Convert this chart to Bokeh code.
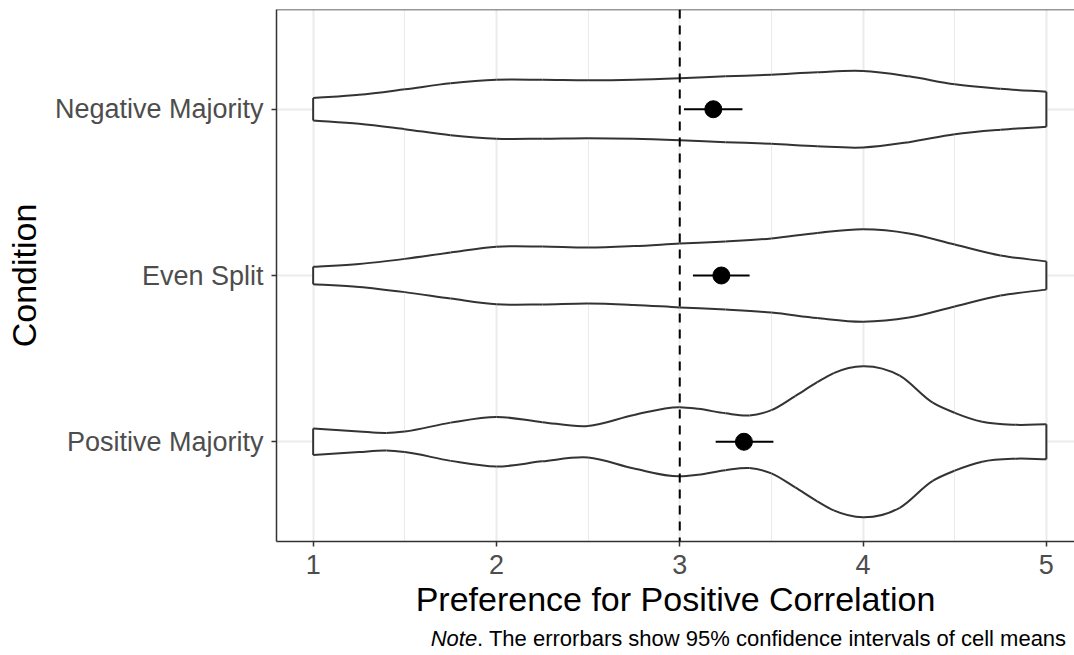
import math
from bokeh.plotting import figure
from bokeh.layouts import column
from bokeh.models import Range1d, FixedTicker, Span, Label
from bokeh.embed import file_html
from bokeh.resources import INLINE

# ---- data ----
categories = ["Positive Majority", "Even Split", "Negative Majority"]
cat_pos = [1, 2, 3]

neg_x = [1, 1.25, 1.5, 1.75, 2, 2.25, 2.5, 2.75, 3, 3.25, 3.5, 3.75, 4, 4.25, 4.5, 4.75, 5]
neg_hw = [0.067, 0.087, 0.120, 0.156, 0.177, 0.177, 0.174, 0.177, 0.186, 0.198, 0.208,
          0.223, 0.230, 0.198, 0.150, 0.123, 0.105]

even_x = [1, 1.25, 1.5, 1.75, 2, 2.25, 2.5, 2.75, 3, 3.25, 3.5, 3.75, 4, 4.25, 4.5, 4.75, 5]
even_hw = [0.052, 0.069, 0.100, 0.138, 0.173, 0.174, 0.168, 0.177, 0.192, 0.205, 0.223,
           0.256, 0.278, 0.253, 0.186, 0.120, 0.085]

pos_x = [1, 1.25, 1.4, 1.5, 1.75, 2, 2.25, 2.5, 2.75, 3, 3.1, 3.25, 3.38, 3.5, 3.63,
         3.75, 3.84, 4, 4.2, 4.38, 4.5, 4.65, 4.83, 5]
pos_hw = [0.080, 0.062, 0.053, 0.062, 0.115, 0.149, 0.118, 0.095, 0.161, 0.208, 0.198,
          0.171, 0.158, 0.190, 0.275, 0.358, 0.413, 0.454, 0.397, 0.235, 0.174, 0.120,
          0.102, 0.105]

means = [3.350, 3.227, 3.183]
ci_lo = [3.196, 3.072, 3.023]
ci_hi = [3.511, 3.381, 3.342]

x_ticks = [1, 2, 3, 4, 5]
x_minor = [1.5, 2.5, 3.5, 4.5]
ref_line = 3

x_title = "Preference for Positive Correlation"
y_title = "Condition"
note_italic = "Note"
note_rest = ". The errorbars show 95% confidence intervals of cell means"

FONT = "Liberation Sans"
DARK = "#333333"

p = figure(width=1074, height=625, output_backend="svg", toolbar_location=None,
           x_range=Range1d(0.8, 0.8 + 798 / 183.3), y_range=Range1d(0.4, 3.6),
           min_border_left=276, min_border_right=0, min_border_top=9,
           min_border_bottom=84)
p.outline_line_color = None
p.background_fill_color = "white"
p.border_fill_color = "white"

# grid
p.xaxis.ticker = FixedTicker(ticks=x_ticks, minor_ticks=x_minor)
p.yaxis.ticker = FixedTicker(ticks=cat_pos)
p.xgrid.grid_line_color = "#EBEBEB"
p.xgrid.grid_line_width = 2
p.xgrid.minor_grid_line_color = "#EBEBEB"
p.xgrid.minor_grid_line_width = 1
p.ygrid.grid_line_color = "#EBEBEB"
p.ygrid.grid_line_width = 2

# axes
for ax in (p.xaxis[0], p.yaxis[0]):
    ax.axis_line_color = DARK
    ax.axis_line_width = 1.5
    ax.major_tick_line_color = DARK
    ax.major_tick_line_width = 1.5
    ax.major_tick_out = 5
    ax.major_tick_in = 0
    ax.minor_tick_out = 0
    ax.minor_tick_in = 0
    ax.major_label_text_font = FONT
    ax.major_label_text_font_size = "27px"
    ax.major_label_text_color = "#4D4D4D"
    ax.axis_label_text_font = FONT
    ax.axis_label_text_font_size = "34px"
    ax.axis_label_text_color = "black"
    ax.axis_label_text_font_style = "normal"
p.xaxis.major_label_standoff = 8
p.yaxis.major_label_standoff = 8
p.xaxis.axis_label = x_title
p.yaxis.axis_label = y_title
p.xaxis.axis_label_standoff = 3
p.yaxis.axis_label_standoff = 9
p.yaxis.major_label_overrides = {c: n for c, n in zip(cat_pos, categories)}

# top border
p.add_layout(Span(location=3.6, dimension="width", line_color=DARK, line_width=1.5))


def hermite_bezier(xs, ys):
    """Cubic Hermite curve through the read points (y as a function of x), as Bezier controls."""
    n = len(xs)
    m = []
    for i in range(n):
        if i == 0:
            m.append((ys[1] - ys[0]) / (xs[1] - xs[0]))
        elif i == n - 1:
            m.append((ys[-1] - ys[-2]) / (xs[-1] - xs[-2]))
        else:
            h0 = xs[i] - xs[i - 1]
            h1 = xs[i + 1] - xs[i]
            d0 = (ys[i] - ys[i - 1]) / h0
            d1 = (ys[i + 1] - ys[i]) / h1
            m.append((d0 * h1 + d1 * h0) / (h0 + h1))
    out = {"x0": [], "y0": [], "x1": [], "y1": [], "cx0": [], "cy0": [], "cx1": [], "cy1": []}
    for i in range(n - 1):
        h = xs[i + 1] - xs[i]
        out["x0"].append(xs[i]); out["y0"].append(ys[i])
        out["x1"].append(xs[i + 1]); out["y1"].append(ys[i + 1])
        out["cx0"].append(xs[i] + h / 3); out["cy0"].append(ys[i] + m[i] * h / 3)
        out["cx1"].append(xs[i + 1] - h / 3); out["cy1"].append(ys[i + 1] - m[i + 1] * h / 3)
    return out


# violins
for cy, xs, hw in [(1, pos_x, pos_hw), (2, even_x, even_hw), (3, neg_x, neg_hw)]:
    top = [cy + h for h in hw]
    bot = [cy - h for h in hw]
    px = list(xs) + list(reversed(xs))
    py = top + list(reversed(bot))
    p.patch(px, py, fill_color="white", line_color=None)
    for ys in (top, bot):
        p.bezier(**hermite_bezier(xs, ys), line_color=DARK, line_width=2)
    p.segment(x0=[xs[0], xs[-1]], x1=[xs[0], xs[-1]], y0=[bot[0], bot[-1]],
              y1=[top[0], top[-1]], line_color=DARK, line_width=2)

# reference line
p.add_layout(Span(location=ref_line, dimension="height", line_color="black",
                  line_width=2, line_dash="9 7"))

# error bars and means
p.segment(x0=ci_lo, x1=ci_hi, y0=cat_pos, y1=cat_pos, line_color="black", line_width=2.2)
p.scatter(x=means, y=cat_pos, size=17, fill_color="black", line_color="black")

# note strip below (its frame lines up with the main frame: x in page pixels)
q = figure(width=1074, height=30, output_backend="svg", toolbar_location=None,
           x_range=Range1d(276, 1074), y_range=Range1d(0, 30),
           x_axis_type=None, y_axis_type=None,
           min_border_left=276, min_border_right=0, min_border_top=0, min_border_bottom=0)
q.outline_line_color = None
q.xgrid.visible = False
q.ygrid.visible = False
q.background_fill_color = "white"
q.border_fill_color = "white"
q.add_layout(Label(x=1066, y=17, text=note_rest, text_font=FONT, text_font_size="22px",
                   text_color="black", text_align="right", text_baseline="middle"))
q.add_layout(Label(x=1066 - 589.3, y=17, text=note_italic, text_font=FONT,
                   text_font_size="22px", text_font_style="italic", text_color="black",
                   text_align="right", text_baseline="middle"))

layout = column(p, q, spacing=0)
open("out.html", "w").write(file_html(layout, INLINE))
